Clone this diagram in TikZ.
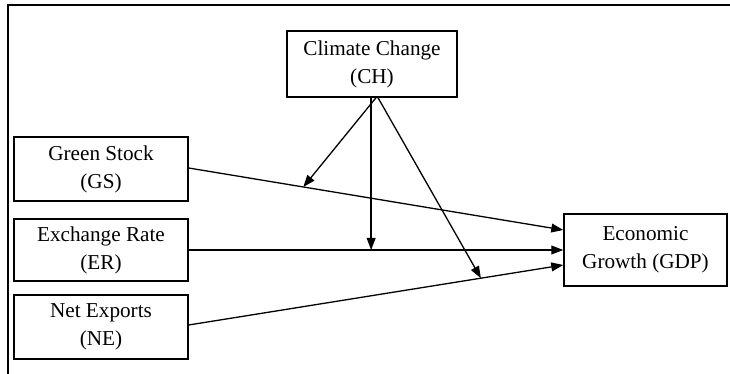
\documentclass[tikz,border=0pt]{standalone}
\usepackage{fontspec}
\setmainfont{Liberation Serif}
\usetikzlibrary{arrows.meta}

\begin{document}
\begin{tikzpicture}[
    x=0.5pt, y=-0.5pt,
    >={Triangle[length=6pt, width=4.4pt]},
    varbox/.style={draw, line width=0.7pt, align=center, inner sep=0pt, font=\fontsize{10.6}{14}\selectfont, minimum width=87pt, minimum height=32pt},
    link/.style={->, line width=0.65pt}
  ]
    \useasboundingbox (0,0) rectangle (730,374);
    % Frame
    \draw[line width=0.7pt] (8,374) -- (8,5) -- (730,5);

    % Variables
    \node[varbox, minimum width=85pt, minimum height=33pt] (ch) at (372,64) {Climate Change\\(CH)};
    \node[varbox] (gs) at (101,169) {Green Stock\\(GS)};
    \node[varbox, minimum height=31pt] (er) at (101,250) {Exchange Rate\\(ER)};
    \node[varbox] (ne) at (101,327) {Net Exports\\(NE)};
    \node[varbox, minimum width=81.5pt, minimum height=36pt] (gdp) at (645.5,250) {Economic\\Growth (GDP)};

    % Direct effects
    \draw[link] ([yshift=0.5pt]gs.east) -- coordinate[pos=0.306] (hitgs) ([yshift=10pt]gdp.west);
    \draw[link] (er.east) -- coordinate[pos=0.487] (hiter) (gdp.west);
    \draw[link] ([yshift=1pt]ne.east) -- coordinate[pos=0.78] (hitne) ([yshift=-7.5pt]gdp.west);

    % Moderating effects
    \draw[link] ([xshift=2pt]ch.south) -- (hitgs);
    \draw[link] (ch.south -| hiter) -- (hiter);
    \draw[link] ([xshift=3pt]ch.south) -- (hitne);
\end{tikzpicture}
\end{document}
